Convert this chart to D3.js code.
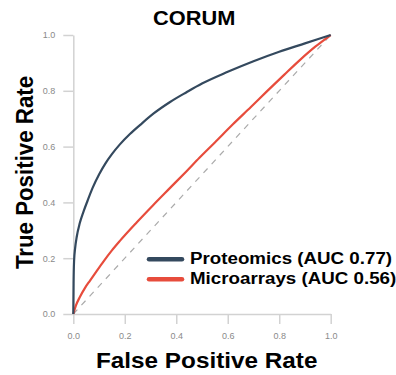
<!DOCTYPE html>
<html>
<head>
<meta charset="utf-8">
<script src="https://cdn.jsdelivr.net/npm/d3@7"></script>
<style>
  html, body { margin: 0; padding: 0; background: #fff; }
  svg { display: block; }
  text { font-family: "Liberation Sans", Arial, Helvetica, sans-serif; }
</style>
</head>
<body>
<svg id="chart" width="396" height="375"></svg>
<script>
const title = "CORUM";
const xLabel = "False Positive Rate";
const yLabel = "True Positive Rate";
const tickValues = [0, 0.2, 0.4, 0.6, 0.8, 1.0];

const seriesNames = ["Proteomics (AUC 0.77)", "Microarrays (AUC 0.56)"];
const seriesColors = ["#34495e", "#e74c3c"];

const proteomicsFpr = [0, 0.001, 0.003, 0.007, 0.013, 0.025, 0.04, 0.055, 0.075, 0.1, 0.125, 0.15, 0.181, 0.22, 0.26, 0.311, 0.376, 0.44, 0.5, 0.6, 0.7, 0.8, 0.9, 1.0];
const proteomicsTpr = [0, 0.11, 0.19, 0.235, 0.275, 0.325, 0.368, 0.405, 0.452, 0.5, 0.54, 0.573, 0.608, 0.645, 0.678, 0.718, 0.76, 0.795, 0.826, 0.868, 0.906, 0.94, 0.97, 1.0];

const microarraysFpr = [0, 0.01, 0.026, 0.045, 0.065, 0.09, 0.117, 0.15, 0.181, 0.246, 0.31, 0.376, 0.44, 0.49, 0.55, 0.62, 0.69, 0.751, 0.82, 0.88, 0.94, 1.0];
const microarraysTpr = [0, 0.03, 0.062, 0.093, 0.12, 0.153, 0.188, 0.228, 0.262, 0.328, 0.39, 0.452, 0.512, 0.56, 0.615, 0.68, 0.742, 0.797, 0.858, 0.91, 0.958, 1.0];

const diagonal = [0, 1];

const svg = d3.select("#chart");
const mLeft = 73.3, mRight = 330.7, mTop = 35, mBottom = 314;
const x = d3.scaleLinear().domain([0, 1]).range([mLeft, mRight]);
const y = d3.scaleLinear().domain([0, 1]).range([mBottom, mTop]);
const sx = 1.09;

// axes
const axisColor = "#d2d2d2";
const xAxis = svg.append("g").attr("transform", `translate(0,${mBottom})`)
  .call(d3.axisBottom(x).tickValues(tickValues).tickFormat(d3.format(".1f")).tickSize(10).tickPadding(9).tickSizeOuter(0));
const yAxis = svg.append("g").attr("transform", `translate(${mLeft},0)`)
  .call(d3.axisLeft(y).tickValues(tickValues).tickFormat(d3.format(".1f")).tickSize(10).tickPadding(8).tickSizeOuter(0));
[xAxis, yAxis].forEach(g => {
  g.select(".domain").attr("stroke", axisColor).attr("stroke-width", 1.5);
  g.selectAll(".tick line").attr("stroke", axisColor).attr("stroke-width", 1.5);
  g.selectAll(".tick text").attr("fill", "#8a8a8a").style("font-size", "9px")
    .style("font-family", "'Liberation Sans', Arial, sans-serif");
});

// diagonal
svg.append("line")
  .attr("x1", x(diagonal[0])).attr("y1", y(diagonal[0]))
  .attr("x2", x(diagonal[1])).attr("y2", y(diagonal[1]))
  .attr("stroke", "#aaa").attr("stroke-width", 1.2).attr("stroke-dasharray", "6,6");

const line = d3.line().x(d => x(d[0])).y(d => y(d[1])).curve(d3.curveMonotoneX);
const series = [
  d3.zip(microarraysFpr, microarraysTpr),
  d3.zip(proteomicsFpr, proteomicsTpr)
];
const seriesColorOrder = [seriesColors[1], seriesColors[0]];
series.forEach((pts, i) => {
  svg.append("path").datum(pts).attr("d", line)
    .attr("fill", "none").attr("stroke", seriesColorOrder[i]).attr("stroke-width", 2.2)
    .attr("stroke-linejoin", "round");
});

// title
svg.append("text").attr("transform", `translate(194.2,25) scale(${sx},1)`)
  .attr("text-anchor", "middle").style("font-size", "20px").style("font-weight", "bold")
  .attr("fill", "#000").text(title);

// x label
svg.append("text").attr("transform", `translate(206.7,367.7) scale(${sx},1)`)
  .attr("text-anchor", "middle").style("font-size", "22.3px").style("font-weight", "bold")
  .attr("fill", "#000").text(xLabel);

// y label
svg.append("text").attr("transform", `translate(33,172.5) scale(${sx},1) rotate(-90)`)
  .attr("text-anchor", "middle").style("font-size", "22.3px").style("font-weight", "bold")
  .attr("fill", "#000").text(yLabel);

// legend
const legendY = [259.3, 279.3];
seriesNames.forEach((name, i) => {
  svg.append("line").attr("x1", 149).attr("x2", 182).attr("y1", legendY[i]).attr("y2", legendY[i])
    .attr("stroke", seriesColors[i]).attr("stroke-width", 4.5).attr("stroke-linecap", "round");
  svg.append("text").attr("transform", `translate(190,${legendY[i] + 5}) scale(${sx},1)`)
    .style("font-size", "17.2px").style("font-weight", "bold").attr("fill", "#000").text(name);
});
</script>
</body>
</html>
